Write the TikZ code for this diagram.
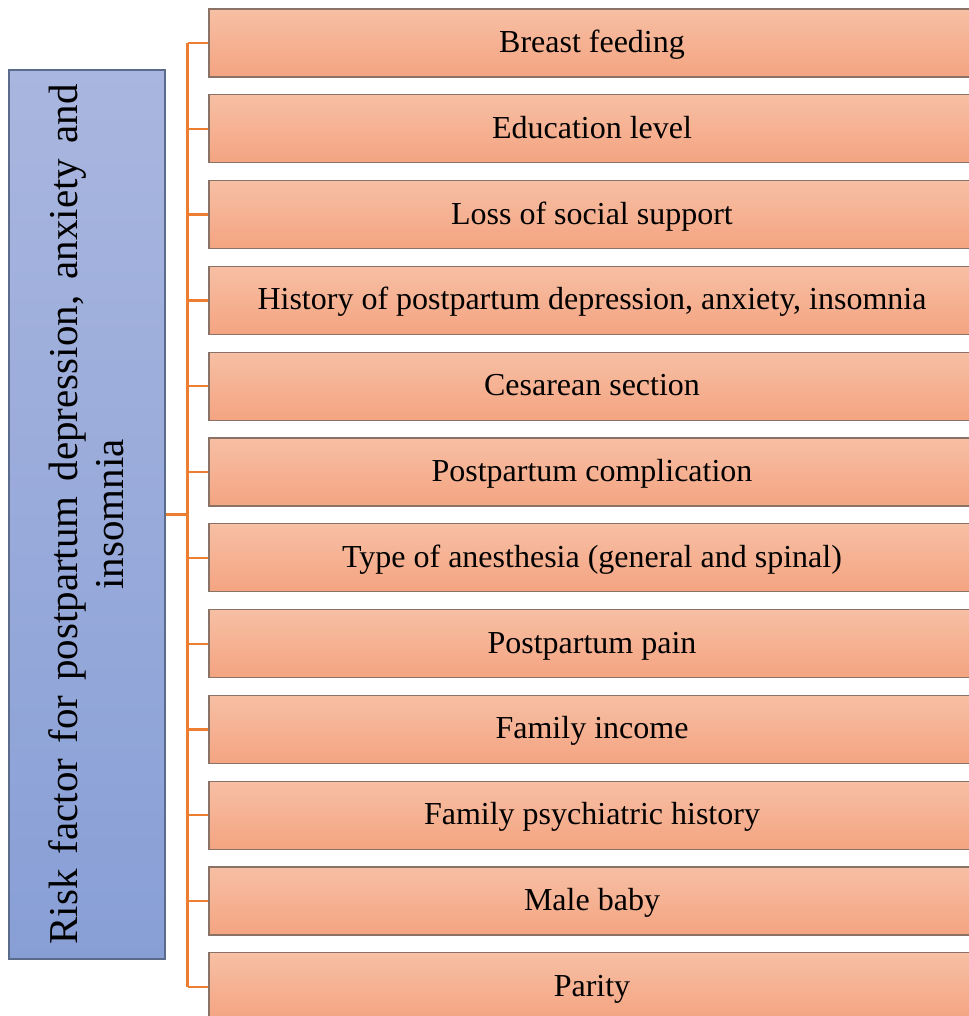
\documentclass[tikz,border=0pt]{standalone}
\usepackage{fontspec}
\setmainfont{Liberation Serif}
\definecolor{factortop}{HTML}{F7BFA4}
\definecolor{factorbot}{HTML}{F4A481}
\definecolor{factoredge}{HTML}{8A7366}
\definecolor{roottop}{HTML}{A9B6DF}
\definecolor{rootbot}{HTML}{889FD6}
\definecolor{rootedge}{HTML}{5B6B8C}
\definecolor{linkcol}{HTML}{ED7D31}

\begin{document}
\begin{tikzpicture}[x=1pt,y=1pt,
  factorbox/.style={draw=factoredge, line width=1.3pt,
    top color=factortop, bottom color=factorbot,
    minimum width=800pt, minimum height=68pt, inner sep=0pt,
    text height=25pt, text depth=6pt,
    font=\fontsize{32}{38}\selectfont},
  rootbox/.style={draw=rootedge, line width=1.1pt,
    top color=roottop, bottom color=rootbot,
    minimum width=156pt, minimum height=889pt, inner sep=0pt},
  rootlabel/.style={rotate=90, inner sep=0pt, align=center,
    font=\fontsize{41}{46}\selectfont},
  connector/.style={draw=linkcol, line width=2.2pt}
]
\useasboundingbox (0,0) rectangle (968,-1016);

% central category box with its rotated caption
\node[rootbox] (root) at (87,-514.5) {};
\node[rootlabel, anchor=north] (roottext) at (48,-514.5)
  {\makebox[860pt][s]{Risk factor for postpartum depression, anxiety and}\\insomnia};

% the twelve risk factors (boxes run past the right edge of the page)
\foreach \t [count=\i] in {Breast feeding, Education level, Loss of social support,
    {History of postpartum depression, anxiety, insomnia}, Cesarean section,
    Postpartum complication, Type of anesthesia (general and spinal),
    Postpartum pain, Family income, Family psychiatric history, Male baby, Parity}{
  \pgfmathsetmacro{\yc}{-(9 + (\i-1)*85.8 + 34)}
  \node[factorbox] (f\i) at (609,\yc) {\hspace*{-34pt}\t};
}

% bracket connectors
\draw[connector] (root.east) -- ++(22,0) coordinate (hub);
\draw[connector] (hub |- f1.west) -- (hub |- f12.west);
\foreach \i in {1,...,12}
  \draw[connector] (hub |- f\i.west) -- (f\i.west);
\end{tikzpicture}
\end{document}
